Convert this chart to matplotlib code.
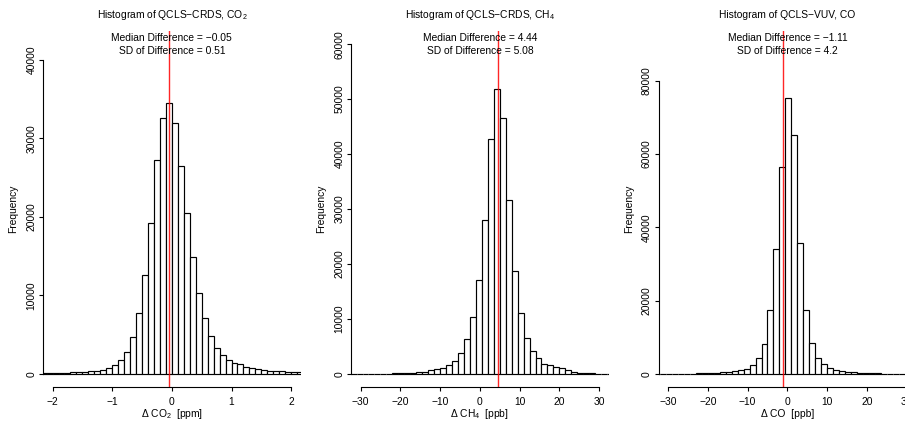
import numpy as np
import matplotlib
matplotlib.use("Agg")
import matplotlib.pyplot as plt

plt.rcParams["font.family"] = ["Liberation Sans", "DejaVu Sans"]
plt.rcParams["mathtext.fontset"] = "custom"
plt.rcParams["mathtext.rm"] = "Liberation Sans"
plt.rcParams["mathtext.it"] = "Liberation Sans:italic"
plt.rcParams["mathtext.default"] = "regular"

# --- data (counts per bin) ---
co2_start = -2.2
co2_width = 0.1
co2_counts = [80, 90, 110, 130, 130, 170, 210, 250, 300, 380, 510, 720, 1060, 1740,
              2800, 4630, 7730, 12570, 19270, 27260, 32570, 34560, 31970, 26540,
              20470, 14860, 10280, 7050, 4760, 3350, 2380, 1780, 1360, 1190, 930,
              720, 590, 510, 420, 380, 300, 250, 210, 170]

ch4_start = -32.5
ch4_width = 1.5
ch4_counts = [20, 20, 25, 30, 35, 45, 55, 70, 100, 150, 200, 270, 380, 650, 850,
              1100, 1600, 2350, 3850, 6250, 10370, 17050, 27950, 42750, 51900,
              46550, 31600, 18800, 11080, 6600, 4200, 2900, 1820, 1550, 1300, 1000,
              610, 360, 220, 120, 80, 55, 40, 30]

co_start = -33.5
co_width = 1.5
co_counts = [20, 25, 30, 35, 45, 60, 80, 110, 150, 200, 270, 360, 450, 640, 910,
             1360, 2460, 4370, 8190, 17300, 34000, 56400, 75300, 65200, 35850,
             17450, 8300, 4200, 2640, 1550, 1090, 820, 550, 360, 270, 180, 130,
             100, 80, 60, 50, 40, 35, 30, 25]

titles = ["Histogram of QCLS\u2212CRDS, CO$_2$",
          "Histogram of QCLS\u2212CRDS, CH$_4$",
          "Histogram of QCLS\u2212VUV, CO"]
xlabels = ["\u0394 CO$_2$  [ppm]", "\u0394 CH$_4$  [ppb]", "\u0394 CO  [ppb]"]
medians = [-0.05, 4.44, -1.11]
sds = ["0.51", "5.08", "4.2"]
xticks = [[-2, -1, 0, 1, 2],
          [-30, -20, -10, 0, 10, 20, 30],
          [-30, -20, -10, 0, 10, 20, 30]]
yticks = [[0, 10000, 20000, 30000, 40000],
          [0, 10000, 20000, 30000, 40000, 50000, 60000],
          [0, 20000, 40000, 60000, 80000]]
ylims = [42000, 60000, 90000]
xlims = [2.0, 30.0, 30.0]

hists = [(co2_start, co2_width, co2_counts),
         (ch4_start, ch4_width, ch4_counts),
         (co_start, co_width, co_counts)]

W, H = 905, 421
fig = plt.figure(figsize=(W / 100, H / 100), dpi=100)

lefts = [43, 351, 658.5]
pw = 257.7
top_px, bot_px = 31, 387
fs = 7.4


def ftext(x, y, s, **kw):
    fig.text(x / W, 1 - y / H, s, ha="center", va="center", fontsize=fs, **kw)


for i in range(3):
    ax = fig.add_axes([lefts[i] / W, 1 - bot_px / H, pw / W, (bot_px - top_px) / H])
    start, width, counts = hists[i]
    edges = start + width * np.arange(len(counts))
    ax.bar(edges, counts, width=width, align="edge", color="white",
           edgecolor="black", linewidth=0.85)
    ax.axvline(medians[i], color="red", linewidth=1.0, alpha=0.85)

    xl = xlims[i]
    ax.set_xlim(-xl * 1.08, xl * 1.08)
    ax.set_ylim(-ylims[i] * 0.04, ylims[i] * 1.04)
    for s in ["top", "right"]:
        ax.spines[s].set_visible(False)
    ax.spines["left"].set_bounds(yticks[i][0], yticks[i][-1])
    ax.spines["bottom"].set_bounds(xticks[i][0], xticks[i][-1])
    for s in ["left", "bottom"]:
        ax.spines[s].set_linewidth(0.8)
    ax.set_xticks(xticks[i])
    ax.set_yticks(yticks[i])
    ax.set_yticklabels([str(v) for v in yticks[i]], rotation=90, va="center")
    ax.tick_params(length=3.2, width=0.8, labelsize=fs)
    ax.tick_params(axis="x", pad=4)
    ax.tick_params(axis="y", pad=1.5)

    cx = lefts[i] + pw / 2
    ftext(cx, 15, titles[i])
    ftext(cx, 38.3, "Median Difference = " + f"{medians[i]:.2f}".replace("-", "\u2212"))
    ftext(cx, 50.7, "SD of Difference = " + sds[i])
    ftext(cx, 414, xlabels[i])
    ftext(lefts[i] - 29.7, (top_px + bot_px) / 2, "Frequency", rotation=90)

fig.savefig("out.png", dpi=100)
